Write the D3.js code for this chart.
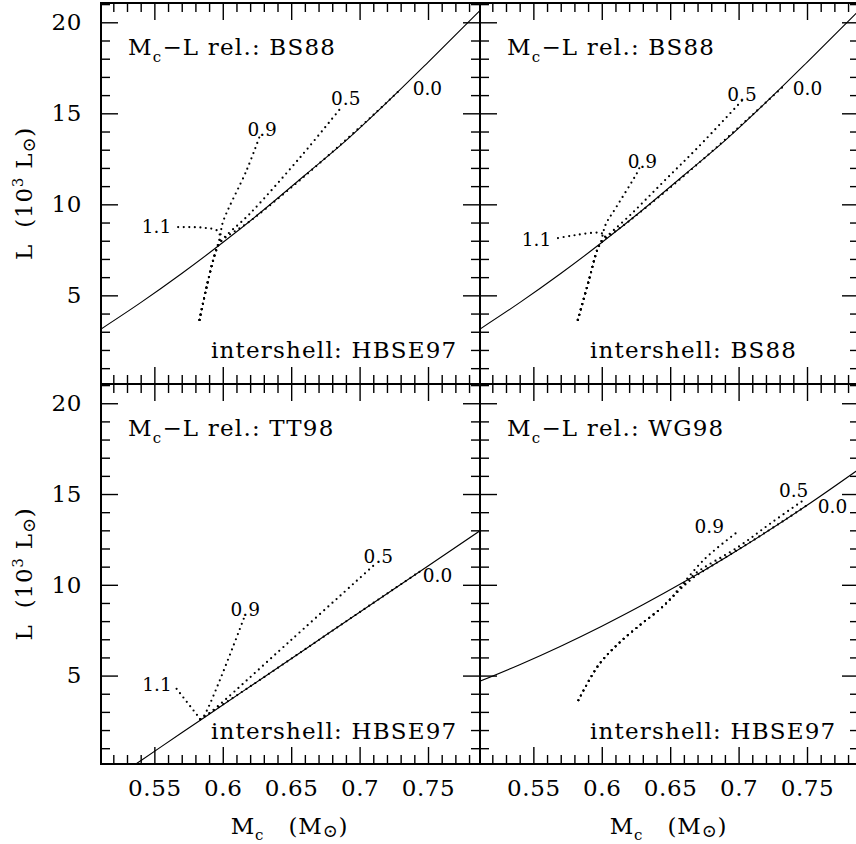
<!DOCTYPE html>
<html><head><meta charset="utf-8">
<script src="https://cdn.jsdelivr.net/npm/d3@7"></script>
<style>
body{margin:0;background:#fff;}
svg{display:block;}
text{font-family:"DejaVu Serif",serif;fill:#000;}
</style>
</head><body>
<script>
// ---------- data ----------
const massGrid = [0.51, 0.54, 0.57, 0.60, 0.63, 0.66, 0.69, 0.72, 0.75, 0.79];
const lumBS88  = [3.1, 4.6, 6.2, 7.9, 9.7, 11.6, 13.5, 15.6, 17.8, 20.8];
const lumTT98  = [-1.22, 0.31, 1.85, 3.38, 4.91, 6.44, 7.98, 9.51, 11.04, 13.08];
const lumWG98  = [4.66, 5.60, 6.62, 7.72, 8.90, 10.15, 11.48, 12.89, 14.38, 16.48];

const xTickValues = [0.55, 0.6, 0.65, 0.7, 0.75];
const xTickLabels = ["0.55", "0.6", "0.65", "0.7", "0.75"];
const yTickValues = [5, 10, 15, 20];
const yTickLabels = ["5", "10", "15", "20"];
const lambdaNames = ["0.0", "0.5", "0.9", "1.1"];

// tracks [Mc, L(10^3 Lsun)] for lambda = 0.0, 0.5, 0.9, 1.1
const p1Lam00 = [[0.583,3.65],[0.588,5.4],[0.594,7.2],[0.598,7.9],[0.62,9.08],[0.65,10.92],[0.68,12.87],[0.71,14.91],[0.730,16.32]];
const p1Lam05 = [[0.583,3.65],[0.588,5.4],[0.594,7.2],[0.598,7.9],[0.62,9.5],[0.657,12.62],[0.687,15.36]];
const p1Lam09 = [[0.583,3.65],[0.588,5.4],[0.594,7.2],[0.598,8.2],[0.600,9.0],[0.6176,11.9],[0.6273,13.8]];
const p1Lam11 = [[0.583,3.65],[0.588,5.4],[0.594,7.2],[0.598,8.2],[0.596,8.55],[0.585,8.72],[0.566,8.75]];

const p2Lam00 = [[0.5825,3.65],[0.5905,5.8],[0.5967,7.5],[0.599,7.85],[0.62,9.08],[0.65,10.92],[0.68,12.87],[0.71,14.91],[0.733,16.5]];
const p2Lam05 = [[0.5825,3.65],[0.5905,5.8],[0.5967,7.5],[0.599,7.85],[0.622,9.5],[0.6464,11.34],[0.6707,13.16],[0.7025,15.7]];
const p2Lam09 = [[0.5825,3.65],[0.5905,5.8],[0.5967,7.5],[0.599,7.85],[0.6029,8.9],[0.6098,9.75],[0.6256,11.7],[0.6275,12.0]];
const p2Lam11 = [[0.5825,3.65],[0.5905,5.8],[0.5967,7.5],[0.599,7.85],[0.6025,8.3],[0.5976,8.44],[0.58,8.3],[0.5645,8.1]];

const p3Lam00 = [[0.5836,2.6],[0.62,4.4],[0.66,6.44],[0.70,8.49],[0.744,10.73]];
const p3Lam05 = [[0.5836,2.6],[0.5905,2.95],[0.6491,6.9],[0.7115,11.15]];
const p3Lam09 = [[0.5836,2.6],[0.5858,2.72],[0.6164,8.35]];
const p3Lam11 = [[0.5836,2.6],[0.5649,4.4]];

const p4Lam00 = [[0.5829,3.64],[0.5976,5.57],[0.6122,6.76],[0.6292,7.86],[0.6415,8.59],[0.650,9.2],[0.658,9.8],[0.668,10.45],[0.68,11.03],[0.71,12.42],[0.735,13.63],[0.752,14.48]];
const p4Lam05 = [[0.5829,3.64],[0.5976,5.57],[0.6122,6.76],[0.6292,7.86],[0.6415,8.59],[0.650,9.2],[0.6575,9.8],[0.668,10.6],[0.70,12.1],[0.7244,13.44],[0.7488,14.73]];
const p4Lam09 = [[0.5829,3.64],[0.5976,5.57],[0.6122,6.76],[0.6292,7.86],[0.6415,8.59],[0.650,9.2],[0.657,9.85],[0.6756,11.45],[0.6988,12.89]];

const relations  = ["BS88", "BS88", "TT98", "WG98"];
const intershell = ["HBSE97", "BS88", "HBSE97", "HBSE97"];

// ---------- layout (pixels) ----------
const colX = [101, 480], rowY = [3, 384], PW = 379, PH = [381, 380];
const xDomain = [0.511, 0.788], yDomain = [0.13, 21.06];
// label placement relative to the track end: [anchor, dx, dy]
const labelLayout = [
  {"0.0":["start",12,6], "0.5":["middle",4,-2], "0.9":["middle",2,1], "1.1":["end",-5,6]},
  {"0.0":["start",9,9],  "0.5":["middle",0,0],  "0.9":["middle",3,0], "1.1":["end",-2,7]},
  {"0.0":["start",3,10], "0.5":["middle",3,-1], "0.9":["middle",0,1], "1.1":["end",-3,5]},
  {"0.0":["start",8,10], "0.5":["end",3,-2],    "0.9":["end",-13,1]}
];

const curves = [lumBS88, lumBS88, lumTT98, lumWG98];
const trackSets = [
  [p1Lam00, p1Lam05, p1Lam09, p1Lam11],
  [p2Lam00, p2Lam05, p2Lam09, p2Lam11],
  [p3Lam00, p3Lam05, p3Lam09, p3Lam11],
  [p4Lam00, p4Lam05, p4Lam09]
];

const svg = d3.select("body").append("svg").attr("width", 856).attr("height", 844);
const defs = svg.append("defs");

const yMinor = d3.range(1, 22).filter(v => v % 5 !== 0);
const xMinor = d3.range(52, 79).filter(v => v % 5 !== 0).map(v => v / 100);

function styleAxis(sel) {
  sel.select(".domain").remove();
  sel.selectAll(".tick line").attr("stroke", "#000").attr("stroke-width", 1.4);
  sel.selectAll("text").attr("font-family", "DejaVu Serif").attr("font-size", 23)
     .attr("letter-spacing", 0.6).attr("fill", "#000");
}

for (let i = 0; i < 4; i++) {
  const col = i % 2, row = Math.floor(i / 2);
  const x0 = colX[col], y0 = rowY[row], ph = PH[row];
  const x = d3.scaleLinear().domain(xDomain).range([x0, x0 + PW]);
  const y = d3.scaleLinear().domain(yDomain).range([y0 + ph, y0]);
  const g = svg.append("g");

  const cid = "clip" + i;
  defs.append("clipPath").attr("id", cid).append("rect")
    .attr("x", x0).attr("y", y0).attr("width", PW).attr("height", ph);
  const plot = g.append("g").attr("clip-path", `url(#${cid})`);

  // M_c - L relation (solid)
  const solidLine = d3.line().curve(d3.curveMonotoneX).x(d => x(d[0])).y(d => y(d[1]));
  plot.append("path")
    .datum(massGrid.map((m, k) => [m, curves[i][k]]))
    .attr("d", solidLine).attr("fill", "none").attr("stroke", "#000").attr("stroke-width", 1.1);

  // evolutionary tracks (dotted)
  const trackLine = d3.line().curve(d3.curveCatmullRom.alpha(0.5)).x(d => x(d[0])).y(d => y(d[1]));
  trackSets[i].forEach((tr, k) => {
    plot.append("path").datum(tr).attr("d", trackLine)
      .attr("fill", "none").attr("stroke", "#000").attr("stroke-width", 2.2)
      .attr("stroke-linecap", "round").attr("stroke-dasharray", "0 5.5");
    const name = lambdaNames[k];
    const lay = labelLayout[i][name];
    const end = tr[tr.length - 1];
    g.append("text").attr("x", x(end[0]) + lay[1]).attr("y", y(end[1]) + lay[2])
      .attr("text-anchor", lay[0]).attr("font-size", 18.5).attr("font-family", "DejaVu Sans")
      .text(name);
  });

  // axes: ticks inward on all four sides
  g.append("g").attr("transform", `translate(${x0},0)`)
    .call(d3.axisLeft(y).tickValues(yTickValues).tickSize(-17).tickPadding(19)
      .tickFormat((d, k) => col === 0 ? yTickLabels[k] : "")).call(styleAxis);
  g.append("g").attr("transform", `translate(${x0},0)`)
    .call(d3.axisLeft(y).tickValues(yMinor).tickSize(-9).tickFormat("")).call(styleAxis);
  g.append("g").attr("transform", `translate(${x0 + PW},0)`)
    .call(d3.axisRight(y).tickValues(yTickValues).tickSize(-17).tickFormat("")).call(styleAxis);
  g.append("g").attr("transform", `translate(${x0 + PW},0)`)
    .call(d3.axisRight(y).tickValues(yMinor).tickSize(-9).tickFormat("")).call(styleAxis);
  g.append("g").attr("transform", `translate(0,${y0})`)
    .call(d3.axisTop(x).tickValues(xTickValues).tickSize(-17).tickFormat("")).call(styleAxis);
  g.append("g").attr("transform", `translate(0,${y0})`)
    .call(d3.axisTop(x).tickValues(xMinor).tickSize(-9).tickFormat("")).call(styleAxis);
  g.append("g").attr("transform", `translate(0,${y0 + ph})`)
    .call(d3.axisBottom(x).tickValues(xTickValues).tickSize(-17).tickPadding(16)
      .tickFormat((d, k) => row === 1 ? xTickLabels[k] : "")).call(styleAxis);
  g.append("g").attr("transform", `translate(0,${y0 + ph})`)
    .call(d3.axisBottom(x).tickValues(xMinor).tickSize(-9).tickFormat("")).call(styleAxis);

  // frame
  g.append("rect").attr("x", x0).attr("y", y0).attr("width", PW).attr("height", ph)
    .attr("fill", "none").attr("stroke", "#000").attr("stroke-width", 2);

  // panel texts
  const t1 = g.append("text").attr("x", x0 + 27).attr("y", y0 + 52)
    .attr("font-size", 23).attr("letter-spacing", 1.2);
  t1.append("tspan").text("M");
  t1.append("tspan").attr("font-size", 15).attr("dy", 7).text("c");
  t1.append("tspan").attr("dy", -7).text("\u2212L rel.: " + relations[i]);

  g.append("text").attr("x", x0 + 110).attr("y", y0 + 355)
    .attr("font-size", 23).attr("letter-spacing", 1.2)
    .text("intershell: " + intershell[i]);

  // y-axis label
  if (col === 0) {
    const cy = y0 + ph / 2;
    const yl = svg.append("text").attr("transform", `translate(32,${cy}) rotate(-90)`)
      .attr("text-anchor", "middle").attr("font-size", 23).attr("letter-spacing", 0.8);
    yl.append("tspan").text("L\u00a0\u00a0(10");
    yl.append("tspan").attr("font-size", 15).attr("dy", -9).text("3");
    yl.append("tspan").attr("dy", 9).text("\u00a0L");
    yl.append("tspan").attr("font-size", 18).attr("dy", 3).text("\u2299");
    yl.append("tspan").attr("dy", -3).text(")");
  }
  // x-axis label
  if (row === 1) {
    const xl = svg.append("text").attr("x", x0 + PW / 2 - 1).attr("y", 834)
      .attr("text-anchor", "middle").attr("font-size", 23).attr("letter-spacing", 0.8);
    xl.append("tspan").text("M");
    xl.append("tspan").attr("font-size", 15).attr("dy", 6).text("c");
    xl.append("tspan").attr("dy", -6).text("\u00a0\u00a0\u00a0(M");
    xl.append("tspan").attr("font-size", 18).attr("dy", 3).text("\u2299");
    xl.append("tspan").attr("dy", -3).text(")");
  }
}
</script>
</body></html>
